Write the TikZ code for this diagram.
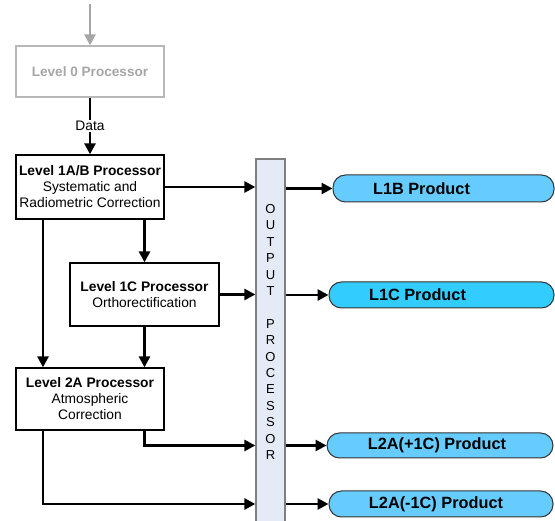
\documentclass[tikz,border=0pt]{standalone}
\usepackage{fontspec}
\setmainfont{Liberation Sans}
\usetikzlibrary{arrows.meta}

\definecolor{procgray}{HTML}{A6A6A6}
\definecolor{outfill}{HTML}{E4EBF6}
\definecolor{outline}{HTML}{7F7F7F}
\definecolor{prodblue}{HTML}{66CCFF}
\definecolor{prodcyan}{HTML}{33CCFF}
\definecolor{prodline}{HTML}{333333}

\tikzset{
  procbox/.style={draw=black, line width=1.3pt, fill=white, align=center,
    inner sep=0pt, font=\fontsize{13.8}{16}\selectfont},
  graybox/.style={draw=procgray!80, line width=1.3pt, fill=white, text=procgray,
    inner sep=0pt, font=\fontsize{13.6}{16}\selectfont\bfseries},
  outbox/.style={draw=outline, line width=1.3pt, fill=outfill},
  prodbox/.style={draw=prodline, line width=1pt, rounded corners=12.5pt, inner sep=0pt},
  prodtext/.style={font=\fontsize{16.3}{18}\selectfont\bfseries, inner sep=0pt},
  letter/.style={font=\fontsize{13}{14}\selectfont, inner sep=0pt},
  flow/.style={line width=2.7pt, -{Triangle[length=11pt,width=11pt]}},
  grayflow/.style={flow, draw=procgray, color=procgray}
}

\begin{document}
\begin{tikzpicture}[x=1pt, y=-1pt]
\useasboundingbox (0,0) rectangle (555,521);
\clip (0,0) rectangle (555,521);

% processing chain
\node[graybox, minimum width=148pt, minimum height=51pt] (l0) at (90,71.5) {Level 0 Processor};
\node[procbox, minimum width=148pt, minimum height=64pt] (l1ab) at (90,187)
  {\textbf{Level 1A/B Processor}\\Systematic and\\Radiometric Correction};
\node[procbox, minimum width=149pt, minimum height=63pt] (l1c) at (144.5,294.5)
  {\textbf{Level 1C Processor}\\Orthorectification};
\node[procbox, minimum width=148pt, minimum height=62pt] (l2a) at (90,399)
  {\textbf{Level 2A Processor}\\Atmospheric\\Correction};

% output processor column
\node[outbox, minimum width=29pt, minimum height=372pt, inner sep=0pt] (out) at (270.5,345) {};
\foreach \c [count=\i from 0] in {O,U,T,P,U,T,,P,R,O,C,E,S,S,O,R}
  \node[letter] (ol\i) at (270.5,{209+\i*16.4}) {\c};

% products
\node[prodbox, fill=prodblue, minimum width=221pt, minimum height=27pt] (p1b) at (443.5,188.5) {};
\node[prodbox, fill=prodcyan, minimum width=225pt, minimum height=26pt] (p1c) at (441.5,295) {};
\node[prodbox, fill=prodblue, minimum width=226pt, minimum height=25pt] (p2p) at (440,445.5) {};
\node[prodbox, fill=prodblue, minimum width=224pt, minimum height=26pt] (p2m) at (441,504) {};
\node[prodtext] (t1b) at ([xshift=-22pt]p1b.center) {L1B Product};
\node[prodtext] (t1c) at ([xshift=-24pt]p1c.center) {L1C Product};
\node[prodtext] (t2p) at ([xshift=-3pt]p2p.center) {L2A(+1C) Product};
\node[prodtext] (t2m) at ([xshift=-5pt]p2m.center) {L2A(-1C) Product};

% connectors
\coordinate (src) at (90,4);
\coordinate (xl) at (43,0);
\draw[grayflow] (src) -- (l0.north);
\draw[flow] (l0.south) -- (l1ab.north)
  node[midway, fill=white, inner sep=1pt, font=\fontsize{13.8}{16}\selectfont] (data) {Data};
\draw[flow] (l1ab.east) -- (l1ab.east -| out.west);
\draw[flow] (l1c.east) -- (l1c.east -| out.west);
\draw[flow] (l1ab.south -| l1c.north) -- (l1c.north);
\draw[flow] (l1c.south) -- (l1c.south |- l2a.north);
\draw[flow] (l1ab.south -| xl) -- (l2a.north -| xl);
\draw[flow] (l2a.south -| l1c.south) |- (out.west |- p2p.west);
\draw[flow] (l2a.south -| xl) |- (out.west |- p2m.west);
\draw[flow] (out.east |- p1b.west) -- (p1b.west);
\draw[flow] (out.east |- p1c.west) -- (p1c.west);
\draw[flow] (out.east |- p2p.west) -- (p2p.west);
\draw[flow] (out.east |- p2m.west) -- (p2m.west);
\end{tikzpicture}
\end{document}
